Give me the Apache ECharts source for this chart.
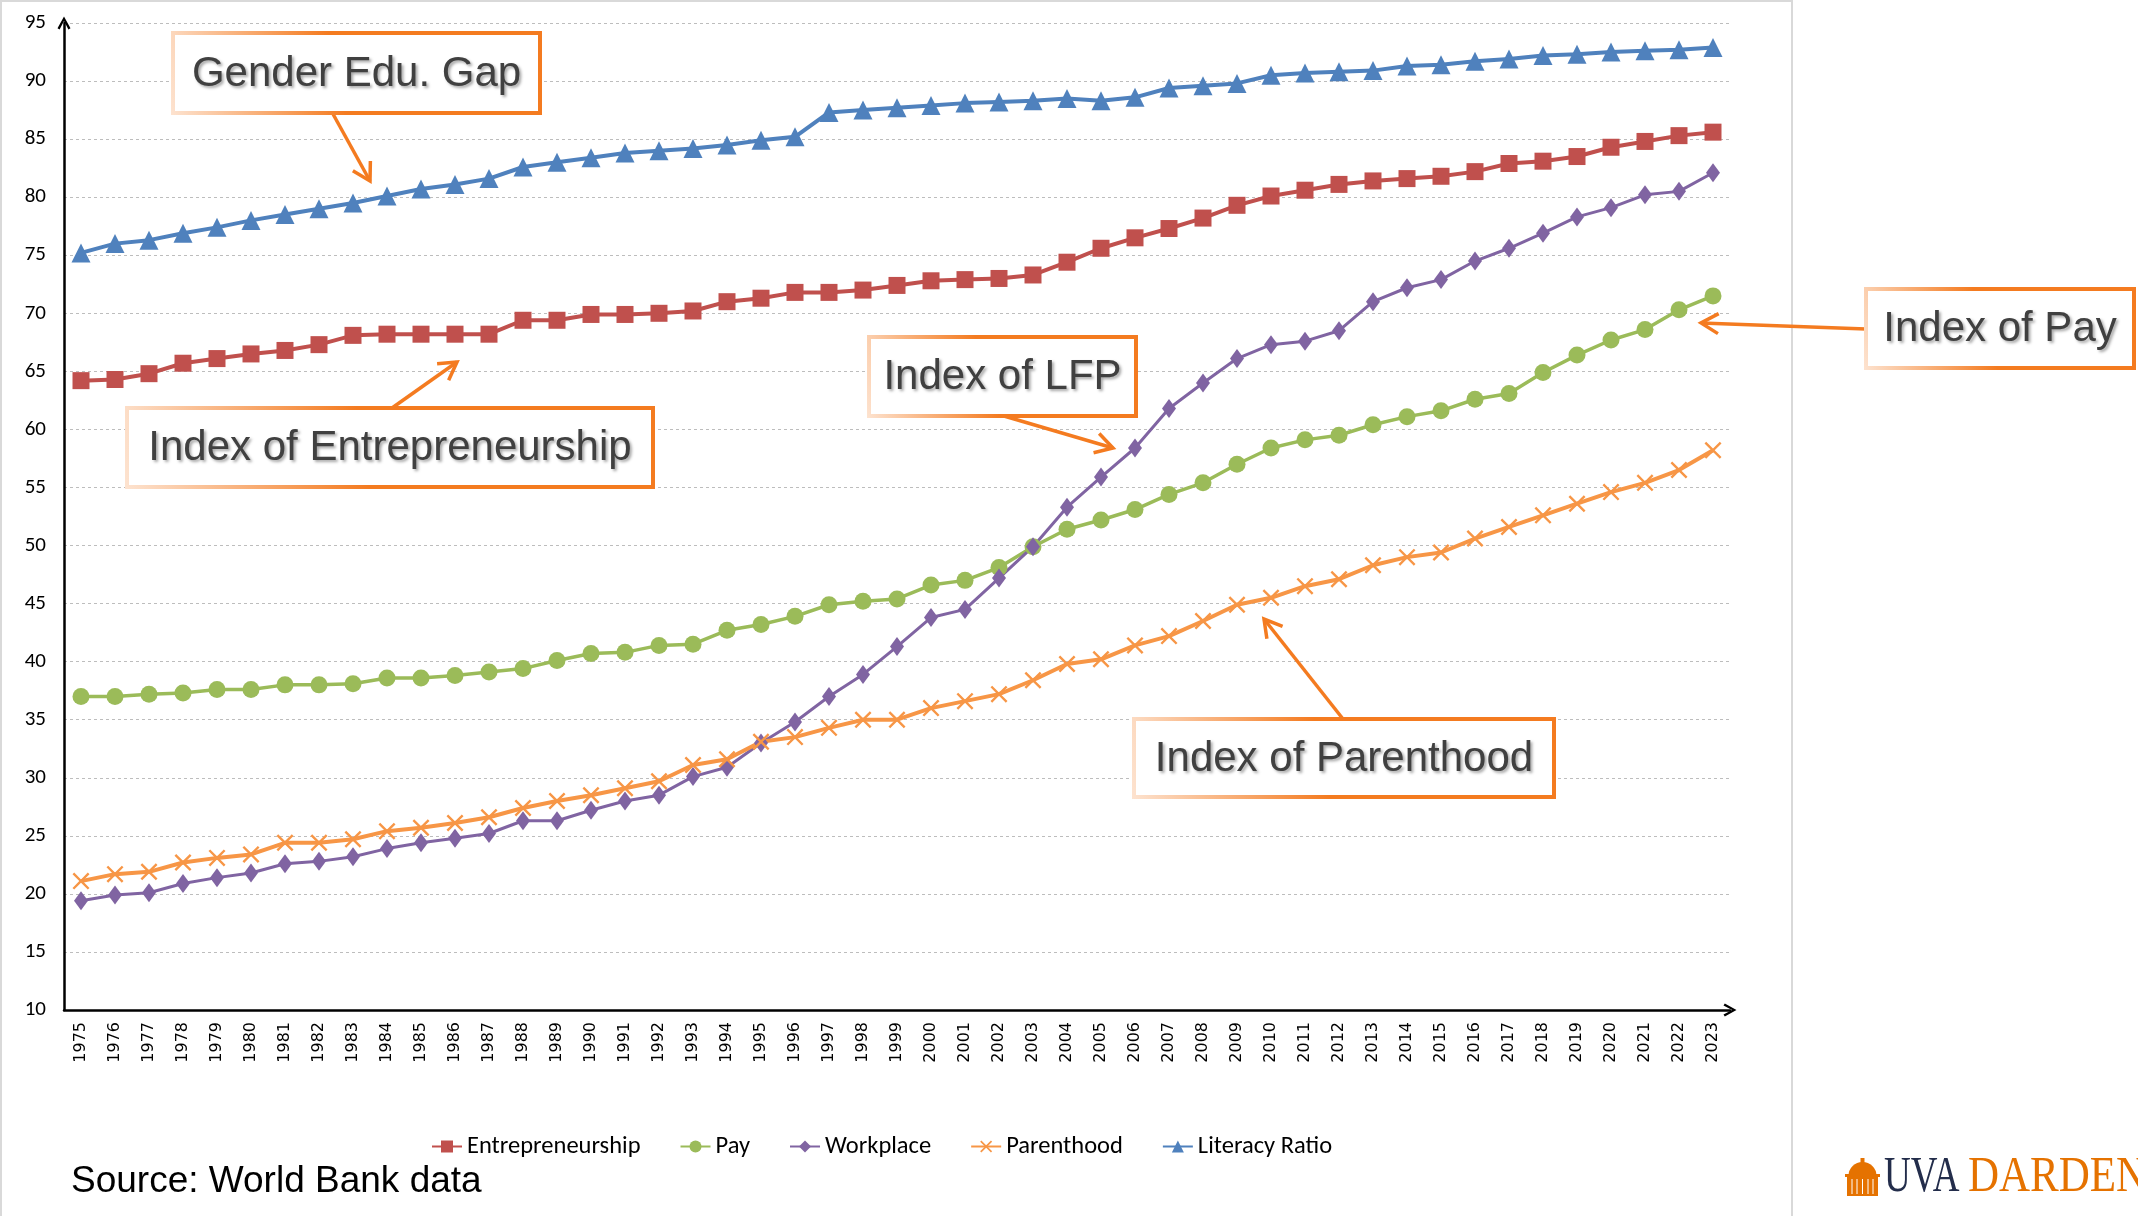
<!DOCTYPE html>
<html>
<head>
<meta charset="utf-8">
<script src="https://cdn.jsdelivr.net/npm/echarts@6/dist/echarts.min.js"></script>
<style>
html,body{margin:0;padding:0;background:#fff;}
#chart{width:2138px;height:1216px;}
</style>
</head>
<body>
<div id="chart"></div>
<script>
const categories = ['1975','1976','1977','1978','1979','1980','1981','1982','1983','1984','1985','1986','1987','1988','1989','1990','1991','1992','1993','1994','1995','1996','1997','1998','1999','2000','2001','2002','2003','2004','2005','2006','2007','2008','2009','2010','2011','2012','2013','2014','2015','2016','2017','2018','2019','2020','2021','2022','2023'];

const entrepreneurship = [64.2,64.3,64.8,65.7,66.1,66.5,66.8,67.3,68.1,68.2,68.2,68.2,68.2,69.4,69.4,69.9,69.9,70.0,70.2,71.0,71.3,71.8,71.8,72.0,72.4,72.8,72.9,73.0,73.3,74.4,75.6,76.5,77.3,78.2,79.3,80.1,80.6,81.1,81.4,81.6,81.8,82.2,82.9,83.1,83.5,84.3,84.8,85.3,85.6];

const pay = [37.0,37.0,37.2,37.3,37.6,37.6,38.0,38.0,38.1,38.6,38.6,38.8,39.1,39.4,40.1,40.7,40.8,41.4,41.5,42.7,43.2,43.9,44.9,45.2,45.4,46.6,47.0,48.1,49.9,51.4,52.2,53.1,54.4,55.4,57.0,58.4,59.1,59.5,60.4,61.1,61.6,62.6,63.1,64.9,66.4,67.7,68.6,70.3,71.5];

const workplace = [19.4,19.9,20.1,20.9,21.4,21.8,22.6,22.8,23.2,23.9,24.4,24.8,25.2,26.3,26.3,27.2,28.0,28.5,30.1,30.9,33.0,34.8,37.0,38.9,41.3,43.8,44.5,47.2,49.9,53.3,55.9,58.4,61.8,64.0,66.1,67.3,67.6,68.5,71.0,72.2,72.9,74.5,75.6,76.9,78.3,79.1,80.2,80.5,82.1];

const parenthood = [21.1,21.7,21.9,22.7,23.1,23.4,24.4,24.4,24.7,25.4,25.7,26.1,26.6,27.4,28.0,28.5,29.1,29.7,31.1,31.6,33.1,33.5,34.3,35.0,35.0,36.0,36.6,37.2,38.4,39.8,40.2,41.4,42.2,43.5,44.9,45.5,46.5,47.1,48.3,49.0,49.4,50.6,51.6,52.6,53.6,54.6,55.4,56.5,58.2];

const literacy = [75.2,76.0,76.3,76.9,77.4,78.0,78.5,79.0,79.5,80.1,80.7,81.1,81.6,82.6,83.0,83.4,83.8,84.0,84.2,84.5,84.9,85.2,87.3,87.5,87.7,87.9,88.1,88.2,88.3,88.5,88.3,88.6,89.4,89.6,89.8,90.5,90.7,90.8,90.9,91.3,91.4,91.7,91.9,92.2,92.3,92.5,92.6,92.7,92.9];

const seriesNames = ['Entrepreneurship','Pay','Workplace','Parenthood','Literacy Ratio'];
const yTicks = {min:10, max:95, interval:5};

const ORANGE = '#F47B20';
const xSymbol = 'path://M0,1 L1,0 L5,4 L9,0 L10,1 L6,5 L10,9 L9,10 L5,6 L1,10 L0,9 L4,5 Z';
const chevron = 'path://M5,0 L10,9 L8.4,10 L5,3.4 L1.6,10 L0,9 Z';

const chart = echarts.init(document.getElementById('chart'), null, {renderer:'canvas'});

const borderGrad = {type:'linear', x:0, y:1, x2:0.45, y2:0.55, colorStops:[{offset:0,color:'#fde3d0'},{offset:1,color:ORANGE}]};

function callout(x, y, w, h, label) {
  return [
    {type:'rect', shape:{x:x, y:y, width:w, height:h}, style:{fill:'#ffffff', stroke:borderGrad, lineWidth:4}, z:100},
    {type:'text', x:x + w/2, y:y + h/2 + 1, z:101, style:{text:label, fill:'#404040', font:'42px "Liberation Sans", Arial, sans-serif', align:'center', verticalAlign:'middle', textShadowColor:'rgba(0,0,0,0.35)', textShadowBlur:3, textShadowOffsetX:2, textShadowOffsetY:2}}
  ];
}

function arrow(x1, y1, x2, y2) {
  const ang = Math.atan2(y2 - y1, x2 - x1);
  const L = 20, a = Math.PI / 6;
  const p1 = [x2 - L * Math.cos(ang - a), y2 - L * Math.sin(ang - a)];
  const p2 = [x2 - L * Math.cos(ang + a), y2 - L * Math.sin(ang + a)];
  return [
    {type:'line', shape:{x1:x1, y1:y1, x2:x2, y2:y2}, style:{stroke:ORANGE, lineWidth:3.5}, z:99},
    {type:'polyline', shape:{points:[p1, [x2, y2], p2]}, style:{stroke:ORANGE, lineWidth:3.5, fill:null}, z:99}
  ];
}

const graphics = [].concat(
  [{type:'rect', shape:{x:1, y:1, width:1791, height:1230}, style:{fill:null, stroke:'#d9d9d9', lineWidth:2}, z:0, silent:true}],
  arrow(333, 114, 370, 181),
  arrow(392, 408, 457, 362),
  arrow(1004, 416, 1113, 448),
  arrow(1866, 329, 1701, 323),
  arrow(1343, 719, 1264, 619),
  callout(173, 33, 367, 80, 'Gender Edu. Gap'),
  callout(127, 408, 526, 79, 'Index of Entrepreneurship'),
  callout(869, 337, 267, 79, 'Index of LFP'),
  callout(1866, 289, 268, 79, 'Index of Pay'),
  callout(1134, 719, 420, 78, 'Index of Parenthood'),
  [
    {type:'text', x:71, y:1182, style:{text:'Source: World Bank data', fill:'#000', font:'37px "Liberation Sans", Arial, sans-serif', align:'left', verticalAlign:'middle'}},
    // logo rotunda icon
    {type:'circle', shape:{cx:1862.5, cy:1176, r:14}, style:{fill:'#E57200'}},
    {type:'rect', shape:{x:1860.5, y:1158, width:4, height:6}, style:{fill:'#E57200'}},
    {type:'rect', shape:{x:1847, y:1176, width:31, height:20}, style:{fill:'#E57200'}},
    {type:'rect', shape:{x:1845, y:1174, width:35, height:3}, style:{fill:'#E57200'}},
    {type:'line', shape:{x1:1852, y1:1179, x2:1852, y2:1194}, style:{stroke:'#fff', lineWidth:1}},
    {type:'line', shape:{x1:1857, y1:1179, x2:1857, y2:1194}, style:{stroke:'#fff', lineWidth:1}},
    {type:'line', shape:{x1:1862.5, y1:1179, x2:1862.5, y2:1194}, style:{stroke:'#fff', lineWidth:1}},
    {type:'line', shape:{x1:1868, y1:1179, x2:1868, y2:1194}, style:{stroke:'#fff', lineWidth:1}},
    {type:'line', shape:{x1:1873, y1:1179, x2:1873, y2:1194}, style:{stroke:'#fff', lineWidth:1}},
    {type:'text', x:1884, y:1178, scaleX:0.74, style:{text:'UVA', fill:'#232D4B', font:'50px "Liberation Serif", "Times New Roman", serif', align:'left', verticalAlign:'middle'}},
    {type:'text', x:1968, y:1178, scaleX:0.86, style:{text:'DARDEN', fill:'#E57200', font:'50px "Liberation Serif", "Times New Roman", serif', align:'left', verticalAlign:'middle'}}
  ]
);

function lineSeries(name, data, color, symbol, size, width) {
  return {
    name:name, type:'line', data:data, symbol:symbol, symbolSize:size, showAllSymbol:true,
    lineStyle:{color:color, width:width}, itemStyle:{color:color}, emphasis:{disabled:true}
  };
}

const option = {
  animation:false,
  backgroundColor:'#ffffff',
  grid:{left:64, right:408, top:23, bottom:206, outerBoundsMode:'none', containLabel:false},
  legend:{
    left:426, top:1129, itemWidth:30, itemHeight:15, itemGap:39,
    textStyle:{fontSize:24.5, color:'#000', fontFamily:'Carlito, "Liberation Sans", Arial, sans-serif'},
    data:seriesNames
  },
  xAxis:{
    type:'category', data:categories, boundaryGap:true,
    axisLine:{onZero:false, lineStyle:{color:'#000', width:2.5}, symbol:['none', chevron], symbolSize:[13, 15]},
    axisTick:{show:false},
    axisLabel:{rotate:90, interval:0, fontSize:16, fontFamily:'"DejaVu Sans", Verdana, sans-serif', color:'#000', margin:12},
    splitLine:{show:false}
  },
  yAxis:{
    type:'value', min:yTicks.min, max:yTicks.max, interval:yTicks.interval,
    axisLine:{show:true, lineStyle:{color:'#000', width:2.5}, symbol:['none', chevron], symbolSize:[13, 15]},
    axisTick:{show:false},
    axisLabel:{fontSize:21, color:'#000', margin:18, fontFamily:'Carlito, "Liberation Sans Narrow", "Liberation Sans", sans-serif'},
    splitLine:{show:true, lineStyle:{color:'#bdbdbd', width:1, type:[3,3]}}
  },
  series:[
    lineSeries(seriesNames[0], entrepreneurship, '#C0504D', 'rect', 17, 4),
    lineSeries(seriesNames[1], pay, '#9BBB59', 'circle', 17, 3.5),
    lineSeries(seriesNames[2], workplace, '#8064A2', 'diamond', [14, 19], 3),
    lineSeries(seriesNames[3], parenthood, '#F79646', xSymbol, 17, 4),
    lineSeries(seriesNames[4], literacy, '#4F81BD', 'triangle', 19, 4)
  ],
  graphic:graphics
};

chart.setOption(option);
</script>
</body>
</html>
